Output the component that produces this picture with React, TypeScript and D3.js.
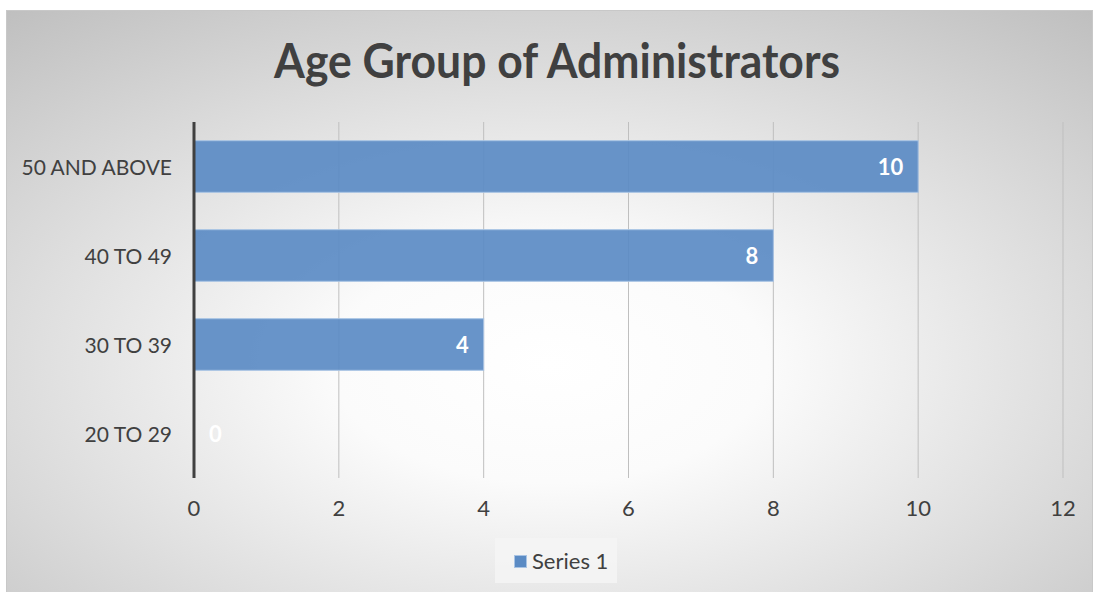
import React from "react";
import * as d3 from "d3";

const categories = ["50 AND ABOVE", "40 TO 49", "30 TO 39", "20 TO 29"];
const values = [10, 8, 4, 0];
const xTicks = [0, 2, 4, 6, 8, 10, 12];
const seriesName = "Series 1";
const title = "Age Group of Administrators";

export default function App() {
  const W = 1093, H = 592;
  const plot = { left: 194, right: 1063, top: 122, bottom: 478 };
  const x = d3.scaleLinear().domain([0, 12]).range([plot.left, plot.right]);
  const y = d3.scaleBand().domain(categories).range([plot.top, plot.bottom]).paddingInner(0.42).paddingOuter(0.21);
  const font = "Lato, 'Open Sans', sans-serif";
  return (
    <svg width={W} height={H} style={{ position: "absolute", left: 0, top: 0, display: "block" }}>
      <defs>
        <radialGradient id="bg" cx="0.5" cy="0.6" r="0.8" gradientUnits="objectBoundingBox">
          <stop offset="0" stopColor="#ffffff" />
          <stop offset="0.25" stopColor="#fbfbfb" />
          <stop offset="1" stopColor="#bdbdbd" />
        </radialGradient>
      </defs>
      <rect x={0} y={0} width={W} height={H} fill="#ffffff" />
      <rect x={6.5} y={10.5} width={1086} height={590} fill="url(#bg)" stroke="#c8c8c8" strokeWidth={1} />
      <text x={557} y={78} textAnchor="middle" fontFamily={font} fontWeight="bold" fontSize={47} fill="#404040" textLength={566} lengthAdjust="spacingAndGlyphs">{title}</text>
      {xTicks.map((t) => (
        <g key={t}>
          {t > 0 && <line x1={x(t)} x2={x(t)} y1={plot.top} y2={plot.bottom} stroke="#bfbfbf" strokeWidth={1} />}
          <text x={x(t)} y={516} textAnchor="middle" fontFamily={font} fontSize={22} fill="#404040">{t}</text>
        </g>
      ))}
      {categories.map((c, i) => (
        <g key={c}>
          <rect x={x(0)} y={y(c)!} width={x(values[i]) - x(0)} height={y.bandwidth()} fill="#5b8bc4" fillOpacity={0.92} stroke="#a9c4e4" strokeWidth={1} />
          <text x={172} y={y(c)! + y.bandwidth() / 2 + 8} textAnchor="end" fontFamily={font} fontSize={21} fill="#404040">{c}</text>
          <text x={values[i] === 0 ? x(0) + 15 : x(values[i]) - 15} y={y(c)! + y.bandwidth() / 2 + 8} textAnchor={values[i] === 0 ? "start" : "end"} fontFamily={font} fontWeight="bold" fontSize={22} fill="#ffffff">{values[i]}</text>
        </g>
      ))}
      <line x1={x(0)} x2={x(0)} y1={plot.top} y2={plot.bottom} stroke="#404040" strokeWidth={3} />
      <rect x={495} y={538} width={122} height={45} fill="#f4f4f4" fillOpacity={0.9} />
      <rect x={514.5} y={555.5} width={12} height={12} fill="#5b8bc4" stroke="#a9c4e4" strokeWidth={1} />
      <text x={532} y={569} fontFamily={font} fontSize={22} fill="#404040">{seriesName}</text>
    </svg>
  );
}
